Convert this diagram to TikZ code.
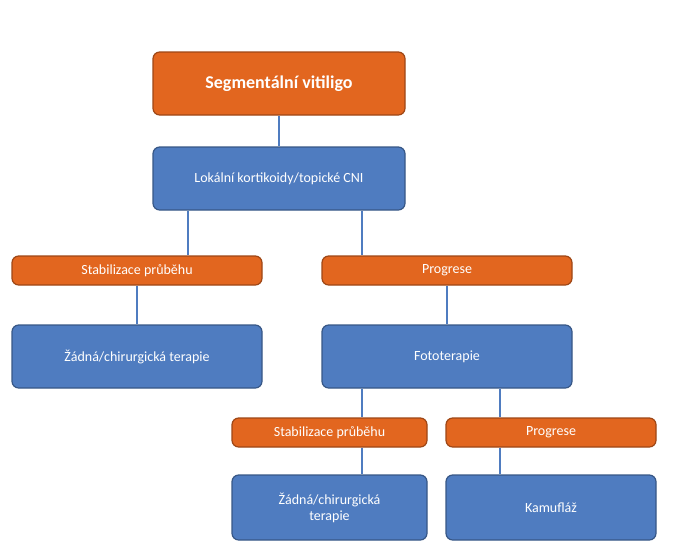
\documentclass[tikz,border=0pt]{standalone}
\usepackage{fontspec}
\setmainfont{Carlito}
\begin{document}
\begin{tikzpicture}[x=0.75pt,y=-0.75pt,
  box/.style={draw=#1!70!black, line width=0.9pt, fill=#1, rounded corners=5pt, text=white, inner sep=0pt, align=center, font=\fontsize{10.5}{12}\selectfont},
  ln/.style={draw=blueB, line width=1.3pt}]
\definecolor{orangeB}{HTML}{E2661F}
\definecolor{blueB}{HTML}{4F7CC0}
\useasboundingbox (0,0) rectangle (674,558);
\def\bx#1#2#3#4#5#6#7{\node[box=#2, minimum width=(#5-#3)*0.75pt, minimum height=(#6-#4)*0.75pt] (#1) at ({(#3+#5)/2},{(#4+#6)/2}) {#7};}
\bx{top}{orangeB}{153}{52}{405}{115}{\fontsize{13.5}{15}\selectfont\bfseries Segmentální vitiligo}
\bx{lok}{blueB}{153}{147}{405}{210}{Lokální kortikoidy/topické CNI}
\bx{stabL}{orangeB}{12}{256}{262}{285}{Stabilizace průběhu}
\bx{prog}{orangeB}{322}{256}{572}{285}{Progrese}
\bx{zadL}{blueB}{12}{325}{262}{388}{Žádná/chirurgická terapie}
\bx{foto}{blueB}{322}{325}{572}{388}{Fototerapie}
\bx{stab2}{orangeB}{232}{418}{427}{447}{Stabilizace průběhu}
\bx{prog2}{orangeB}{446}{418}{656}{447}{Progrese}
\bx{zad2}{blueB}{232}{475}{427}{540}{Žádná/chirurgická\\terapie}
\bx{kam}{blueB}{446}{475}{656}{540}{Kamufláž}
\coordinate (c1) at (188,0);
\coordinate (c2) at (362,0);
\coordinate (c3) at (137,0);
\coordinate (c4) at (447,0);
\coordinate (c5) at (500,0);
\coordinate (c6) at (279,0);
\draw[ln] (top.south -| c6) -- (lok.north -| c6);
\draw[ln] (lok.south -| c1) -- (stabL.north -| c1);
\draw[ln] (lok.south -| c2) -- (prog.north -| c2);
\draw[ln] (stabL.south -| c3) -- (zadL.north -| c3);
\draw[ln] (prog.south -| c4) -- (foto.north -| c4);
\draw[ln] (foto.south -| c2) -- (stab2.north -| c2);
\draw[ln] (foto.south -| c5) -- (prog2.north -| c5);
\draw[ln] (stab2.south -| c2) -- (zad2.north -| c2);
\draw[ln] (prog2.south -| c5) -- (kam.north -| c5);
\end{tikzpicture}
\end{document}
